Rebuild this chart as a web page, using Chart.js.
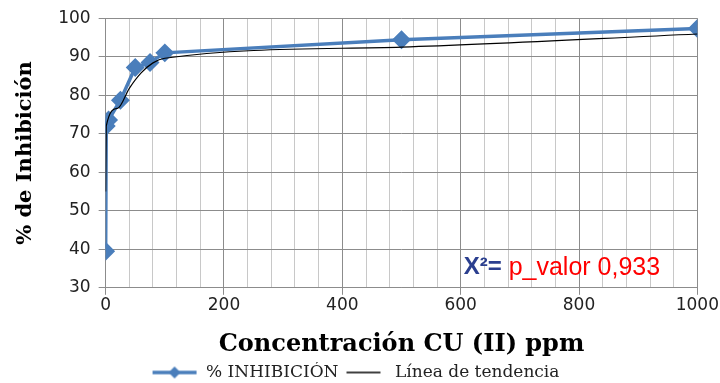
<!DOCTYPE html>
<html>
<head>
<meta charset="utf-8">
<script src="https://cdn.jsdelivr.net/npm/chart.js@4.4.0/dist/chart.umd.min.js"></script>
<style>
  html, body { margin: 0; padding: 0; background: #fff; }
  #wrap { width: 720px; height: 383px; }
</style>
</head>
<body>
<div id="wrap"><canvas id="grafico" width="720" height="383"></canvas></div>
<script>
// datos
const concentracion = [0, 1, 5, 25, 50, 75, 100, 500, 1000];
const inhibicion = [39.5, 72, 73.6, 78.7, 87.2, 88.5, 91, 94.4, 97.3];

const tendenciaX = [0, 1, 20, 40, 60, 80, 100, 500, 1000];
const tendenciaY = [55, 72, 76.6, 81.8, 85.8, 88.4, 89.6, 92.5, 95.9];

const ticksY = [30, 40, 50, 60, 70, 80, 90, 100];
const ticksX = [0, 200, 400, 600, 800, 1000];

const azul = '#4a7ebb';

function muestraLinea(ancho, largo, color, grosor, diamante) {
    const c = document.createElement('canvas');
    c.width = ancho; c.height = 16;
    const g = c.getContext('2d');
    g.strokeStyle = color; g.lineWidth = grosor;
    g.beginPath();
    g.moveTo((ancho - largo) / 2, 8); g.lineTo((ancho + largo) / 2, 8);
    g.stroke();
    if (diamante) {
        g.fillStyle = color;
        g.beginPath();
        g.moveTo(ancho / 2, 2); g.lineTo(ancho / 2 + 6, 8);
        g.lineTo(ancho / 2, 14); g.lineTo(ancho / 2 - 6, 8);
        g.closePath(); g.fill();
    }
    return c;
}
const iconos = [muestraLinea(46, 44, azul, 3.5, true), muestraLinea(46, 34, '#000', 1.5, false)];

// texto del chi cuadrado
const textoChi = {
    id: 'textoChi',
    afterDraw(chart) {
        const ctx = chart.ctx;
        const x = chart.scales.x.getPixelForValue(605);
        const y = chart.scales.y.getPixelForValue(35.2);
        ctx.save();
        ctx.textBaseline = 'middle';
        ctx.font = 'bold 24px "Liberation Sans"';
        ctx.fillStyle = '#2b3f8f';
        ctx.fillText('X²=', x, y);
        const w = ctx.measureText('X²=').width + 7;
        ctx.font = '25px "Liberation Sans"';
        ctx.fillStyle = '#ff0000';
        ctx.fillText('p_valor 0,933', x + w, y);
        ctx.restore();
    }
};

new Chart(document.getElementById('grafico'), {
    type: 'line',
    data: {
        datasets: [{
            label: '% INHIBICIÓN',
            data: concentracion.map((c, i) => ({ x: c, y: inhibicion[i] })),
            borderColor: azul,
            backgroundColor: azul,
            borderWidth: 3.5,
            pointStyle: 'rectRot',
            pointRadius: 7,
            pointHoverRadius: 7,
            tension: 0,
            order: 2
        }, {
            label: 'Línea de tendencia',
            data: tendenciaX.map((c, i) => ({ x: c, y: tendenciaY[i] })),
            borderColor: '#000',
            backgroundColor: '#000',
            borderWidth: 1.2,
            pointRadius: 0,
            cubicInterpolationMode: 'monotone',
            order: 1
        }]
    },
    options: {
        responsive: false,
        animation: false,
        layout: { padding: { top: 7, right: 22, left: 13, bottom: -8 } },
        plugins: {
            tooltip: { enabled: false },
            legend: {
                position: 'bottom',
                labels: {
                    usePointStyle: true,
                    pointStyleWidth: 46,
                    boxHeight: 16,
                    padding: 2,
                    color: '#222',
                    font: { family: 'DejaVu Serif', size: 17 },
                    sort: (a, b) => a.datasetIndex - b.datasetIndex,
                    generateLabels(chart) {
                        const items = Chart.defaults.plugins.legend.labels.generateLabels(chart);
                        items.forEach(it => { it.pointStyle = iconos[it.datasetIndex]; });
                        return items;
                    }
                }
            }
        },
        scales: {
            x: {
                type: 'linear',
                min: 0,
                max: 1000,
                ticks: {
                    stepSize: 40,
                    autoSkip: false,
                    maxRotation: 0,
                    color: '#222',
                    font: { family: 'DejaVu Sans', size: 17 },
                    padding: 1,
                    callback: v => ticksX.includes(v) ? String(v) : ''
                },
                grid: {
                    color: c => (c.tick && ticksX.includes(c.tick.value)) ? '#8c8c8c' : '#c8c8c8',
                    tickColor: c => (c.tick && ticksX.includes(c.tick.value)) ? '#8c8c8c' : 'rgba(0,0,0,0)',
                    tickLength: 7
                },
                border: { color: '#8c8c8c' },
                title: {
                    display: true,
                    text: 'Concentración CU (II) ppm',
                    color: '#000',
                    font: { family: 'DejaVu Serif', size: 24, weight: 'bold' },
                    padding: { top: 13, bottom: 3 }
                }
            },
            y: {
                min: 30,
                max: 100,
                afterBuildTicks: s => { s.ticks = ticksY.map(v => ({ value: v })); },
                ticks: {
                    color: '#222',
                    font: { family: 'DejaVu Sans', size: 17 },
                    padding: 8
                },
                grid: { color: '#8c8c8c', tickColor: '#8c8c8c', tickLength: 7 },
                border: { color: '#8c8c8c' },
                title: {
                    display: true,
                    text: '% de Inhibición',
                    color: '#000',
                    font: { family: 'DejaVu Serif', size: 21, weight: 'bold' },
                    padding: { top: 0, bottom: 12 }
                }
            }
        }
    },
    plugins: [textoChi]
});
</script>
</body>
</html>
